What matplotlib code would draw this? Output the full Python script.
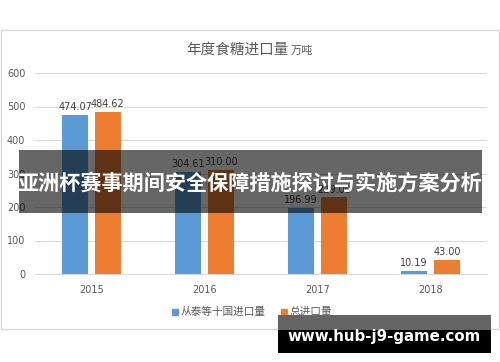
import matplotlib
matplotlib.use("Agg")
import matplotlib.pyplot as plt
from matplotlib.patches import Rectangle
import numpy as np

plt.rcParams['font.family'] = ['Noto Sans CJK SC', 'DejaVu Sans']

years = ['2015', '2016', '2017', '2018']
from_ten = [474.07, 304.61, 196.99, 10.19]
total = [484.62, 310.00, 229.00, 43.00]
series_names = ['从泰等十国进口量', '总进口量']
title_main = '年度食糖进口量'
title_unit = '万吨'
overlay_text = '亚洲杯赛事期间安全保障措施探讨与实施方案分析'
watermark = 'www.hub-j9-game.com'

W, H = 500, 362
fig = plt.figure(figsize=(W/100, H/100), dpi=100)
fig.patch.set_facecolor('white')

def fx(x): return x / W
def fy(y): return 1 - y / H

# chart frame
fig.patches.append(Rectangle((fx(1), fy(329)), fx(498), (329-30)/H, transform=fig.transFigure,
                             facecolor='white', edgecolor='#D9D9D9', lw=1.0, zorder=-5))

ax = fig.add_axes([fx(35), fy(274), fx(487-35), (274-73)/H])
ax.set_zorder(1)
ax.set_facecolor('none')
x = np.arange(len(years))
bw = 0.225
off = 0.145
c_blue = '#5B9BD5'
c_orange = '#ED7D31'
b1 = ax.bar(x - off, from_ten, bw, color=c_blue, zorder=3)
b2 = ax.bar(x + off, total, bw, color=c_orange, zorder=3)
for bars, vals in ((b1, from_ten), (b2, total)):
    for r, v in zip(bars, vals):
        ax.annotate(f'{v:.2f}', (r.get_x() + r.get_width()/2, v), xytext=(0, 2),
                    textcoords='offset points', ha='center', va='bottom',
                    fontsize=7, color='#404040', family='DejaVu Sans')
ax.set_ylim(0, 600)
ax.set_xlim(-0.5, 3.5)
ax.set_yticks(range(0, 601, 100))
ax.set_xticks(x)
ax.set_xticklabels(years)
ax.yaxis.grid(True, color='#D9D9D9', lw=0.8, zorder=0)
ax.tick_params(length=0, labelsize=7, labelcolor='#595959')
ax.tick_params(axis='x', pad=8)
ax.tick_params(axis='y', pad=7)
for lab in ax.get_xticklabels() + ax.get_yticklabels():
    lab.set_family('DejaVu Sans')
for s in ['top', 'right', 'left']:
    ax.spines[s].set_visible(False)
ax.spines['bottom'].set_color('#D9D9D9')

# title
fig.text(fx(289), fy(50), title_main, ha='right', va='center', fontsize=10.5, color='#595959')
fig.text(fx(291), fy(51), title_unit, ha='left', va='center', fontsize=8, color='#595959')

# legend
fig.patches.append(Rectangle((fx(172), fy(315)), fx(6), 6/H, transform=fig.transFigure, color=c_blue))
fig.text(fx(181), fy(312), series_names[0], ha='left', va='center', fontsize=7.7, color='#595959')
fig.patches.append(Rectangle((fx(281), fy(315)), fx(6), 6/H, transform=fig.transFigure, color=c_orange))
fig.text(fx(290), fy(312), series_names[1], ha='left', va='center', fontsize=7.7, color='#595959')

# overlay band
fig.patches.append(Rectangle((fx(19), fy(213)), fx(482-19), (213-150)/H, transform=fig.transFigure,
                             facecolor='black', alpha=0.6, zorder=10))
fig.text(fx(250), fy(183), overlay_text, ha='center', va='center', fontsize=15.2,
         color='white', fontweight='bold', zorder=11)

# watermark box
fig.patches.append(Rectangle((fx(278), fy(330)), fx(491-278), (330-315)/H, transform=fig.transFigure,
                             facecolor='#646464', zorder=10))
fig.patches.append(Rectangle((fx(278), fy(353)), fx(491-278), (353-330)/H, transform=fig.transFigure,
                             facecolor='black', zorder=10))
fig.text(fx(384), fy(336), watermark, ha='center', va='center', fontsize=10.8,
         color='white', fontweight='bold', family='DejaVu Sans', zorder=11)

fig.savefig('out.png', dpi=100)
